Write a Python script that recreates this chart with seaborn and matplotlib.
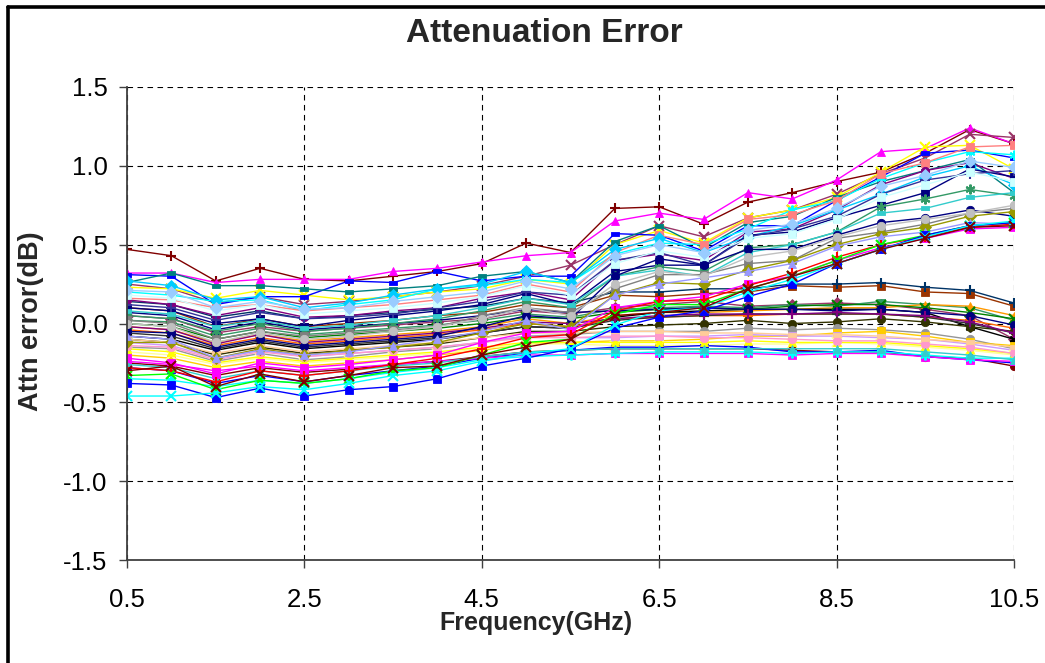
import matplotlib
matplotlib.use("Agg")
import matplotlib.pyplot as plt
from matplotlib.lines import Line2D
import pandas as pd
import seaborn as sns

# Frequency points (GHz)
FREQ_GHZ = [0.5, 1.0, 1.5, 2.0, 2.5, 3.0, 3.5, 4.0, 4.5, 5.0, 5.5,
            6.0, 6.5, 7.0, 7.5, 8.0, 8.5, 9.0, 9.5, 10.0, 10.5]

# Traces that climb towards +0.6 .. +1.2 dB at the top of the band
rising_traces = [
    [0.47, 0.43, 0.27, 0.35, 0.28, 0.27, 0.30, 0.33, 0.38, 0.51, 0.45, 0.73, 0.74, 0.63, 0.77, 0.83, 0.90, 0.96, 1.08, 1.23, 1.14],
    [0.32, 0.32, 0.26, 0.28, 0.28, 0.28, 0.33, 0.35, 0.39, 0.43, 0.45, 0.65, 0.70, 0.66, 0.83, 0.79, 0.91, 1.09, 1.11, 1.24, 1.14],
    [0.25, 0.22, 0.13, 0.17, 0.12, 0.14, 0.17, 0.20, 0.24, 0.30, 0.37, 0.50, 0.62, 0.55, 0.67, 0.72, 0.82, 0.95, 1.05, 1.20, 1.18],
    [0.23, 0.22, 0.16, 0.21, 0.18, 0.15, 0.17, 0.20, 0.22, 0.28, 0.25, 0.50, 0.59, 0.51, 0.67, 0.72, 0.80, 0.96, 1.12, 1.13, 0.98],
    [0.31, 0.30, 0.12, 0.17, 0.17, 0.27, 0.26, 0.33, 0.27, 0.30, 0.30, 0.57, 0.56, 0.46, 0.62, 0.62, 0.78, 0.93, 1.08, 1.10, 1.05],
    [0.26, 0.32, 0.24, 0.24, 0.22, 0.20, 0.22, 0.24, 0.30, 0.33, 0.26, 0.52, 0.62, 0.48, 0.64, 0.68, 0.80, 0.90, 0.97, 1.04, 0.83],
    [0.20, 0.18, 0.14, 0.15, 0.08, 0.12, 0.15, 0.22, 0.24, 0.28, 0.26, 0.44, 0.51, 0.50, 0.60, 0.72, 0.78, 0.92, 1.02, 1.09, 1.07],
    [0.16, 0.15, 0.10, 0.12, 0.08, 0.10, 0.12, 0.15, 0.18, 0.25, 0.20, 0.45, 0.56, 0.50, 0.66, 0.69, 0.78, 0.95, 1.02, 1.12, 1.13],
    [0.15, 0.12, 0.05, 0.10, 0.04, 0.05, 0.08, 0.10, 0.16, 0.20, 0.15, 0.40, 0.44, 0.40, 0.58, 0.60, 0.72, 0.88, 0.97, 1.02, 0.92],
    [0.27, 0.24, 0.15, 0.17, 0.10, 0.13, 0.18, 0.22, 0.25, 0.33, 0.26, 0.47, 0.54, 0.45, 0.55, 0.62, 0.72, 0.82, 0.93, 1.00, 0.88],
    [0.10, 0.08, 0.00, 0.03, -0.02, 0.02, 0.05, 0.08, 0.12, 0.19, 0.12, 0.33, 0.37, 0.37, 0.56, 0.58, 0.67, 0.75, 0.83, 0.98, 0.93],
    [0.12, 0.10, 0.02, 0.07, 0.03, 0.04, 0.06, 0.10, 0.14, 0.20, 0.18, 0.40, 0.45, 0.37, 0.55, 0.60, 0.68, 0.82, 0.91, 0.95, 0.97],
    [0.05, 0.03, -0.05, 0.00, -0.05, -0.03, 0.00, 0.03, 0.08, 0.14, 0.10, 0.30, 0.36, 0.33, 0.48, 0.50, 0.58, 0.74, 0.79, 0.85, 0.81],
    [0.08, 0.06, -0.02, 0.02, -0.03, -0.01, 0.02, 0.05, 0.10, 0.16, 0.12, 0.30, 0.34, 0.30, 0.45, 0.50, 0.58, 0.70, 0.73, 0.80, 0.83],
    [0.18, 0.16, 0.08, 0.12, 0.06, 0.08, 0.10, 0.13, 0.17, 0.24, 0.18, 0.38, 0.46, 0.42, 0.54, 0.57, 0.66, 0.80, 0.88, 0.96, 0.90],
    [-0.05, -0.06, -0.15, -0.10, -0.14, -0.12, -0.10, -0.08, -0.02, 0.05, 0.03, 0.30, 0.41, 0.37, 0.47, 0.47, 0.56, 0.64, 0.67, 0.72, 0.68],
    [0.02, 0.00, -0.10, -0.05, -0.08, -0.06, -0.04, -0.02, 0.05, 0.10, 0.07, 0.22, 0.31, 0.31, 0.38, 0.40, 0.54, 0.58, 0.63, 0.70, 0.73],
    [-0.12, -0.12, -0.22, -0.16, -0.20, -0.17, -0.15, -0.12, -0.06, 0.00, -0.02, 0.18, 0.26, 0.25, 0.34, 0.40, 0.50, 0.57, 0.61, 0.68, 0.71],
    [-0.08, -0.10, -0.22, -0.17, -0.20, -0.18, -0.14, -0.10, -0.05, 0.02, -0.04, 0.18, 0.25, 0.29, 0.33, 0.38, 0.49, 0.55, 0.58, 0.64, 0.63],
    [-0.22, -0.25, -0.32, -0.25, -0.28, -0.26, -0.23, -0.20, -0.12, -0.06, -0.05, 0.10, 0.14, 0.17, 0.25, 0.30, 0.40, 0.48, 0.54, 0.60, 0.61],
    [-0.28, -0.30, -0.37, -0.30, -0.33, -0.30, -0.26, -0.22, -0.16, -0.09, -0.07, 0.08, 0.14, 0.15, 0.24, 0.32, 0.42, 0.50, 0.55, 0.61, 0.63],
    [-0.33, -0.32, -0.42, -0.36, -0.38, -0.35, -0.30, -0.28, -0.20, -0.12, -0.10, 0.06, 0.12, 0.12, 0.22, 0.30, 0.40, 0.50, 0.56, 0.62, 0.64],
    [-0.38, -0.39, -0.47, -0.41, -0.46, -0.42, -0.40, -0.35, -0.27, -0.22, -0.16, -0.03, 0.04, 0.08, 0.17, 0.25, 0.38, 0.47, 0.56, 0.62, 0.64],
    [-0.46, -0.46, -0.44, -0.40, -0.42, -0.38, -0.33, -0.30, -0.24, -0.19, -0.16, -0.01, 0.08, 0.10, 0.20, 0.28, 0.38, 0.47, 0.55, 0.62, 0.65],
    [-0.30, -0.27, -0.40, -0.32, -0.37, -0.33, -0.28, -0.27, -0.20, -0.15, -0.10, 0.05, 0.07, 0.10, 0.22, 0.30, 0.38, 0.47, 0.54, 0.61, 0.62],
    [0.00, -0.02, -0.12, -0.06, -0.10, -0.08, -0.05, -0.02, 0.03, 0.10, 0.05, 0.25, 0.33, 0.30, 0.42, 0.46, 0.55, 0.62, 0.66, 0.70, 0.75],
    [0.21, 0.20, 0.10, 0.14, 0.09, 0.10, 0.14, 0.17, 0.20, 0.27, 0.22, 0.43, 0.50, 0.45, 0.59, 0.63, 0.73, 0.87, 0.94, 1.03, 0.99],
]

# Traces that stay roughly flat between -0.3 and +0.25 dB
flat_traces = [
    [0.10, 0.08, -0.02, 0.03, -0.02, 0.00, 0.02, 0.05, 0.07, 0.12, 0.10, 0.18, 0.17, 0.19, 0.20, 0.24, 0.23, 0.24, 0.20, 0.19, 0.11],
    [0.14, 0.12, 0.04, 0.08, 0.03, 0.05, 0.07, 0.09, 0.11, 0.16, 0.13, 0.20, 0.20, 0.22, 0.22, 0.25, 0.25, 0.26, 0.23, 0.21, 0.13],
    [0.05, 0.03, -0.06, -0.02, -0.05, -0.03, -0.01, 0.01, 0.03, 0.08, 0.06, 0.10, 0.12, 0.14, 0.11, 0.12, 0.13, 0.12, 0.09, 0.05, -0.10],
    [0.02, 0.01, -0.08, -0.03, -0.07, -0.05, -0.03, -0.01, 0.02, 0.06, 0.04, 0.09, 0.10, 0.11, 0.10, 0.12, 0.11, 0.14, 0.12, 0.10, 0.02],
    [-0.02, -0.04, -0.12, -0.07, -0.11, -0.09, -0.07, -0.05, -0.02, 0.03, 0.00, 0.05, 0.07, 0.07, 0.08, 0.09, 0.10, 0.10, 0.12, 0.11, 0.05],
    [-0.08, -0.10, -0.17, -0.12, -0.16, -0.14, -0.12, -0.10, -0.06, -0.02, -0.03, 0.04, 0.07, 0.08, 0.09, 0.09, 0.09, 0.09, 0.07, -0.02, -0.10],
    [-0.10, -0.12, -0.20, -0.15, -0.19, -0.17, -0.15, -0.13, -0.09, -0.05, -0.05, -0.02, -0.01, 0.00, 0.02, 0.00, 0.01, 0.03, 0.01, -0.02, -0.05],
    [-0.15, -0.16, -0.24, -0.19, -0.23, -0.21, -0.18, -0.16, -0.12, -0.08, -0.07, -0.05, -0.05, -0.05, -0.03, -0.04, -0.03, -0.04, -0.06, -0.10, -0.16],
    [-0.20, -0.22, -0.28, -0.24, -0.27, -0.25, -0.23, -0.20, -0.17, -0.13, -0.12, -0.11, -0.11, -0.10, -0.08, -0.08, -0.06, -0.05, -0.08, -0.12, -0.14],
    [-0.12, -0.14, -0.22, -0.17, -0.21, -0.19, -0.17, -0.15, -0.12, -0.08, -0.09, -0.09, -0.08, -0.08, -0.07, -0.08, -0.08, -0.09, -0.10, -0.13, -0.17],
    [-0.18, -0.20, -0.26, -0.22, -0.25, -0.23, -0.21, -0.19, -0.16, -0.13, -0.13, -0.14, -0.14, -0.14, -0.13, -0.13, -0.12, -0.13, -0.15, -0.17, -0.20],
    [-0.25, -0.27, -0.33, -0.28, -0.31, -0.29, -0.26, -0.24, -0.21, -0.18, -0.17, -0.16, -0.16, -0.16, -0.16, -0.17, -0.18, -0.18, -0.21, -0.22, -0.27],
    [-0.28, -0.30, -0.38, -0.33, -0.37, -0.33, -0.30, -0.27, -0.22, -0.19, -0.17, -0.15, -0.15, -0.14, -0.15, -0.18, -0.18, -0.17, -0.21, -0.23, -0.25],
    [-0.24, -0.26, -0.30, -0.27, -0.30, -0.28, -0.26, -0.24, -0.22, -0.20, -0.20, -0.19, -0.19, -0.19, -0.19, -0.20, -0.19, -0.19, -0.21, -0.23, -0.24],
    [-0.35, -0.36, -0.40, -0.36, -0.38, -0.35, -0.31, -0.28, -0.23, -0.21, -0.20, -0.19, -0.18, -0.18, -0.18, -0.19, -0.18, -0.18, -0.20, -0.22, -0.22],
    [-0.16, -0.18, -0.25, -0.21, -0.24, -0.22, -0.20, -0.18, -0.15, -0.12, -0.12, -0.12, -0.12, -0.12, -0.11, -0.12, -0.12, -0.12, -0.14, -0.16, -0.19],
    [-0.04, -0.06, -0.14, -0.09, -0.13, -0.11, -0.09, -0.07, -0.04, 0.00, -0.02, 0.03, 0.04, 0.05, 0.05, 0.06, 0.06, 0.06, 0.04, 0.02, -0.03],
    [0.00, -0.02, -0.10, -0.05, -0.09, -0.07, -0.05, -0.03, 0.00, 0.04, 0.03, 0.07, 0.09, 0.10, 0.09, 0.11, 0.12, 0.12, 0.10, 0.07, 0.03],
    [-0.14, -0.15, -0.23, -0.18, -0.21, -0.19, -0.17, -0.15, -0.12, -0.09, -0.09, -0.08, -0.08, -0.09, -0.09, -0.10, -0.11, -0.11, -0.13, -0.15, -0.19],
    [-0.10, -0.12, -0.19, -0.14, -0.18, -0.16, -0.14, -0.12, -0.09, -0.06, -0.06, -0.05, -0.05, -0.06, -0.06, -0.07, -0.07, -0.08, -0.10, -0.12, -0.15],
    [0.07, 0.05, -0.04, 0.01, -0.04, -0.02, 0.00, 0.02, 0.05, 0.09, 0.07, 0.08, 0.09, 0.10, 0.09, 0.09, 0.08, 0.09, 0.07, 0.05, -0.01],
    [-0.06, -0.08, -0.16, -0.11, -0.15, -0.13, -0.11, -0.09, -0.06, -0.02, -0.03, 0.02, 0.04, 0.05, 0.06, 0.06, 0.06, 0.06, 0.04, 0.00, -0.06],
    [-0.26, -0.28, -0.35, -0.30, -0.33, -0.30, -0.27, -0.25, -0.21, -0.18, -0.17, -0.16, -0.16, -0.16, -0.16, -0.16, -0.16, -0.16, -0.18, -0.20, -0.23],
    [-0.02, -0.04, -0.13, -0.07, -0.12, -0.10, -0.08, -0.06, -0.03, 0.01, 0.00, 0.03, 0.05, 0.06, 0.06, 0.06, 0.07, 0.06, 0.05, 0.01, -0.06],
]

X_TICKS = [0.5, 2.5, 4.5, 6.5, 8.5, 10.5]
Y_TICKS = [-1.5, -1.0, -0.5, 0.0, 0.5, 1.0, 1.5]

# Excel-like marker shapes
BAR = [(-1, -0.38), (1, -0.38), (1, 0.38), (-1, 0.38), (-1, -0.38)]
STAR = (6, 2, 0)

rising_styles = [
    ("#800000", "+"), ("#FF00FF", "^"), ("#993366", "x"), ("#FFFF00", "x"),
    ("#0000FF", BAR), ("#008080", BAR), ("#00FFFF", STAR), ("#FF8080", "s"),
    ("#800080", "o"), ("#00CCFF", "D"), ("#000080", "s"), ("#333399", "+"),
    ("#339966", STAR), ("#33CCCC", BAR), ("#CCFFFF", "s"), ("#000080", "o"),
    ("#808080", "s"), ("#999900", "D"), ("#9999FF", "^"), ("#FF00FF", "s"),
    ("#FF0000", "+"), ("#00FF00", "x"), ("#0000FF", "s"), ("#00FFFF", "x"),
    ("#800000", "x"), ("#C0C0C0", "o"), ("#99CCFF", "D"),
]
flat_styles = [
    ("#993300", "s"), ("#003366", "+"), ("#993366", "D"), ("#339966", BAR),
    ("#FF9900", "^"), ("#000000", STAR), ("#333300", "o"), ("#969696", "o"),
    ("#FFCC00", "s"), ("#CC99FF", "s"), ("#FFFF99", "x"), ("#800000", "o"),
    ("#0000FF", BAR), ("#FF00FF", "s"), ("#00FFFF", STAR), ("#FFFF00", "^"),
    ("#FF6600", "+"), ("#008000", "x"), ("#FF99CC", "o"), ("#FFCC99", BAR),
    ("#000080", "o"), ("#333333", "+"), ("#33CCCC", "^"), ("#800080", "+"),
]

sns.set_theme(style="white")
plt.rcParams["font.family"] = ["Liberation Sans", "DejaVu Sans"]
plt.rcParams["axes.unicode_minus"] = False

fig = plt.figure(figsize=(10.45, 6.63), dpi=100)
ax = fig.add_axes([127 / 1045, 1 - 560 / 663, 887 / 1045, 473 / 663])

rows = []
for group, traces in (("flat", flat_traces), ("rising", rising_traces)):
    for i, vals in enumerate(traces):
        for f, v in zip(FREQ_GHZ, vals):
            rows.append({"trace": f"{group}{i}", "freq": f, "err": v})
df = pd.DataFrame(rows)

all_styles = [("flat" + str(i), s) for i, s in enumerate(flat_styles)] + \
             [("rising" + str(i), s) for i, s in enumerate(rising_styles)]

for name, (color, marker) in all_styles:
    sub = df[df["trace"] == name]
    line_art = marker in ("x", "+") or marker == STAR
    sns.lineplot(data=sub, x="freq", y="err", ax=ax, color=color, lw=1.0,
                 marker=marker, markersize=7 if line_art else 6,
                 markeredgecolor=color, markerfacecolor=color,
                 markeredgewidth=1.5 if line_art else 0.6,
                 legend=False, errorbar=None)

ax.set_xlim(0.5, 10.5)
ax.set_ylim(-1.5, 1.5)
ax.set_xticks(X_TICKS)
ax.set_xticklabels([f"{v:.1f}" for v in X_TICKS])
ax.set_yticks(Y_TICKS)
ax.set_yticklabels([f"{v:.1f}" for v in Y_TICKS])
ax.set_xlabel("")
ax.set_ylabel("")

ax.set_axisbelow(True)
ax.grid(True, color="black", linestyle=(0, (5, 4)), linewidth=0.8)
for side in ("top", "right"):
    ax.spines[side].set_visible(False)
for side in ("left", "bottom"):
    ax.spines[side].set_color("#404040")
    ax.spines[side].set_linewidth(1.3)

ax.tick_params(axis="both", direction="out", length=6, width=1, color="#404040",
               labelsize=18.5, labelcolor="black")
ax.tick_params(axis="y", pad=8, left=True)
ax.tick_params(axis="x", pad=14, bottom=True)

fig.text(544 / 1045, 1 - 42 / 663, "Attenuation Error", ha="center", va="baseline",
         fontsize=24, fontweight="bold")
fig.text(536 / 1045, 1 - 630 / 663, "Frequency(GHz)", ha="center", va="baseline",
         fontsize=18, fontweight="bold")
fig.text(31 / 1045, 1 - 321 / 663, "Attn error(dB)", ha="center", va="center",
         rotation=90, fontsize=19.5, fontweight="bold")

# chart-area border (left and top edges are visible in the original)
fig.add_artist(Line2D([8 / 1045, 8 / 1045], [0, 1 - 6.5 / 663], color="black", lw=2.6))
fig.add_artist(Line2D([8 / 1045, 1], [1 - 6.5 / 663, 1 - 6.5 / 663], color="black", lw=2.6))

fig.savefig("out.png", dpi=100)
